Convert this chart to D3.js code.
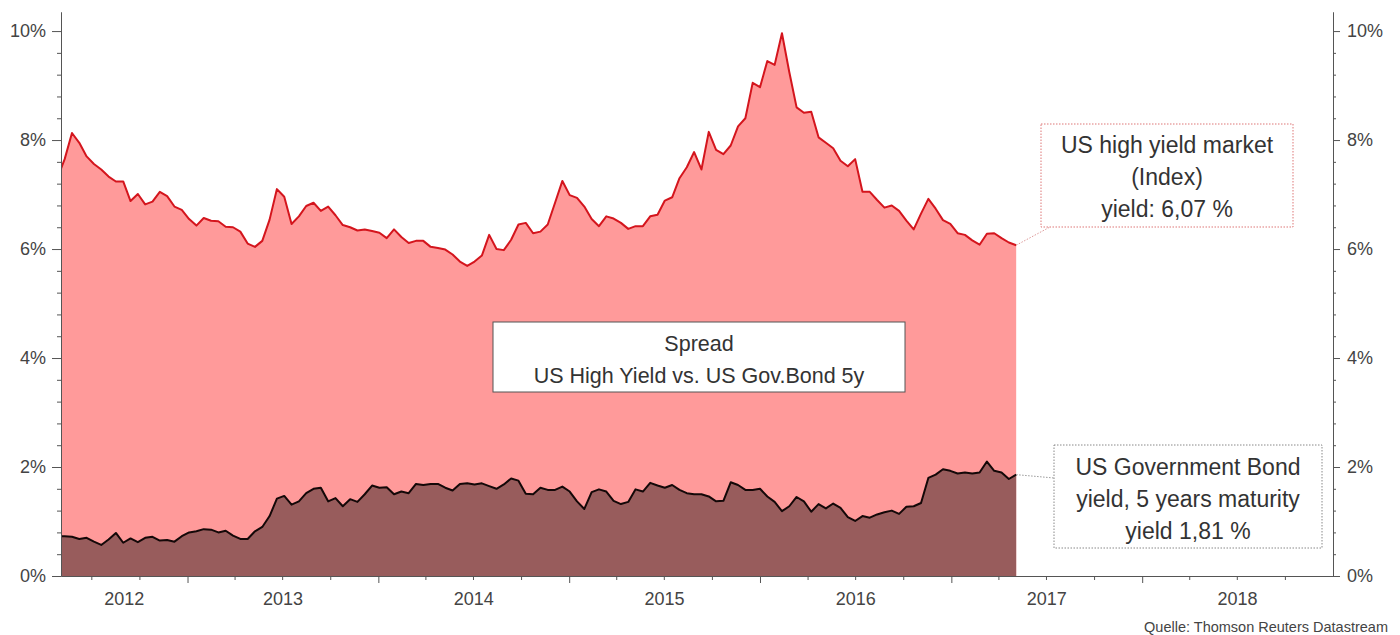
<!DOCTYPE html>
<html lang="en">
<head>
<meta charset="utf-8">
<title>US High Yield vs. US Gov.Bond 5y</title>
<style>
  body { margin: 0; background: #fff; font-family: "Liberation Sans", Arial, Helvetica, sans-serif; }
  .axis path, .axis line { stroke: #555; }
  .axis text { fill: #444; font-size: 18px; font-family: "Liberation Sans", Arial, sans-serif; }
  .note { fill: #333; font-family: "Liberation Sans", Arial, sans-serif; }
</style>
</head>
<body>
<div class="chart"></div>
<script src="https://d3js.org/d3.v7.min.js"></script>
<script>
// data, one point every two weeks starting 27 Apr 2012 (first point sits under the left axis)
var firstDate = new Date(2012, 3, 27);

// US high yield market index yield, %
var highYield = [
  7.30, 7.65, 8.13, 7.95, 7.70, 7.56, 7.46, 7.33, 7.24, 7.24,
  6.88, 7.01, 6.82, 6.87, 7.05, 6.97, 6.78, 6.72, 6.55, 6.43,
  6.57, 6.52, 6.51, 6.41, 6.40, 6.32, 6.10, 6.04, 6.15, 6.54,
  7.10, 6.96, 6.46, 6.60, 6.79, 6.85, 6.70, 6.78, 6.62, 6.44,
  6.40, 6.34, 6.36, 6.33, 6.30, 6.20, 6.36, 6.22, 6.11, 6.15,
  6.15, 6.04, 6.02, 5.99, 5.90, 5.77, 5.69, 5.77, 5.88, 6.26,
  6.00, 5.98, 6.17, 6.45, 6.48, 6.29, 6.32, 6.45, 6.85, 7.25,
  6.99, 6.94, 6.78, 6.55, 6.42, 6.60, 6.56, 6.48, 6.37, 6.42,
  6.42, 6.60, 6.63, 6.89, 6.95, 7.30, 7.50, 7.78, 7.46, 8.15,
  7.82, 7.74, 7.90, 8.25, 8.40, 9.05, 8.97, 9.45, 9.38, 9.96,
  9.25, 8.60, 8.50, 8.52, 8.05, 7.95, 7.85, 7.62, 7.52, 7.65,
  7.05, 7.05, 6.90, 6.76, 6.80, 6.70, 6.52, 6.36, 6.65, 6.92,
  6.74, 6.53, 6.46, 6.29, 6.26, 6.16, 6.08, 6.28, 6.29, 6.20,
  6.12, 6.07
];

// US government bond yield, 5 years maturity, %
var govBond5y = [
  0.73, 0.73, 0.72, 0.68, 0.70, 0.63, 0.57, 0.67, 0.79, 0.61,
  0.69, 0.62, 0.70, 0.72, 0.65, 0.66, 0.63, 0.73, 0.80, 0.82,
  0.86, 0.85, 0.80, 0.83, 0.74, 0.68, 0.68, 0.82, 0.90, 1.10,
  1.42, 1.47, 1.31, 1.37, 1.52, 1.60, 1.62, 1.37, 1.43, 1.28,
  1.41, 1.36, 1.50, 1.66, 1.62, 1.63, 1.50, 1.55, 1.52, 1.69,
  1.67, 1.69, 1.69, 1.62, 1.57, 1.69, 1.70, 1.68, 1.70, 1.65,
  1.60, 1.68, 1.79, 1.75, 1.51, 1.50, 1.62, 1.58, 1.58, 1.64,
  1.55, 1.37, 1.23, 1.54, 1.59, 1.55, 1.38, 1.32, 1.36, 1.59,
  1.55, 1.71, 1.66, 1.62, 1.67, 1.58, 1.52, 1.50, 1.50, 1.46,
  1.37, 1.38, 1.72, 1.67, 1.58, 1.58, 1.60, 1.46, 1.36, 1.19,
  1.28, 1.45, 1.37, 1.18, 1.32, 1.24, 1.33, 1.25, 1.08, 1.01,
  1.10, 1.07, 1.13, 1.17, 1.20, 1.14, 1.27, 1.28, 1.34, 1.80,
  1.86, 1.96, 1.93, 1.88, 1.90, 1.88, 1.90, 2.10, 1.93, 1.90,
  1.78, 1.86
];

var years = [2012, 2013, 2014, 2015, 2016, 2017, 2018];
var yMajor = [0, 2, 4, 6, 8, 10];

var hyLines = ["US high yield market", "(Index)", "yield: 6,07 %"];
var govLines = ["US Government Bond", "yield, 5 years maturity", "yield 1,81 %"];
var spreadLines = ["Spread", "US High Yield vs. US Gov.Bond 5y"];
var sourceText = "Quelle: Thomson Reuters Datastream";

var dates = highYield.map(function(d, i) { return d3.timeDay.offset(firstDate, i * 14); });

var width = 1400, height = 635;
var plotLeft = 61, plotRight = 1333, plotTop = 12, plotBottom = 576;

var x = d3.scaleTime()
  .domain([new Date(2012, 4, 4), new Date(2019, 0, 1)])
  .range([plotLeft, plotRight]);

var y = d3.scaleLinear()
  .domain([0, 10.35])
  .range([plotBottom, plotTop]);

var svg = d3.select(".chart").append("svg")
  .attr("width", width)
  .attr("height", height);

svg.append("defs").append("clipPath").attr("id", "plot")
  .append("rect")
  .attr("x", plotLeft).attr("y", 0)
  .attr("width", plotRight - plotLeft).attr("height", plotBottom);

var plot = svg.append("g").attr("clip-path", "url(#plot)");

var area = d3.area()
  .x(function(d, i) { return x(dates[i]); })
  .y0(y(0))
  .y1(function(d) { return y(d); });

var line = d3.line()
  .x(function(d, i) { return x(dates[i]); })
  .y(function(d) { return y(d); });

plot.append("path").datum(highYield)
  .attr("d", area)
  .attr("fill", "#ff9a9a");

plot.append("path").datum(highYield)
  .attr("d", line)
  .attr("fill", "none")
  .attr("stroke", "#d4151d")
  .attr("stroke-width", 2)
  .attr("stroke-linejoin", "round");

plot.append("path").datum(govBond5y)
  .attr("d", area)
  .attr("fill", "#985c5c");

plot.append("path").datum(govBond5y)
  .attr("d", line)
  .attr("fill", "none")
  .attr("stroke", "#140808")
  .attr("stroke-width", 2)
  .attr("stroke-linejoin", "round");

// y axes, major and minor ticks
var yMinor = d3.range(0, 10.01, 0.4).filter(function(v) {
  return yMajor.indexOf(Math.round(v * 10) / 10) < 0;
});

svg.append("g").attr("class", "axis")
  .attr("transform", "translate(" + plotLeft + ",0)")
  .call(d3.axisLeft(y).tickValues(yMajor).tickSize(9).tickSizeOuter(0).tickPadding(6)
    .tickFormat(function(d) { return d + "%"; }));
svg.append("g").attr("class", "axis")
  .attr("transform", "translate(" + plotLeft + ",0)")
  .call(d3.axisLeft(y).tickValues(yMinor).tickSize(4).tickSizeOuter(0).tickFormat(""));

svg.append("g").attr("class", "axis")
  .attr("transform", "translate(" + plotRight + ",0)")
  .call(d3.axisRight(y).tickValues(yMajor).tickSize(7).tickSizeOuter(0).tickPadding(7)
    .tickFormat(function(d) { return d + "%"; }));
svg.append("g").attr("class", "axis")
  .attr("transform", "translate(" + plotRight + ",0)")
  .call(d3.axisRight(y).tickValues(yMinor).tickSize(3).tickSizeOuter(0).tickFormat(""));

// x axis: quarter ticks, longer at the start of each year
var quarters = d3.timeMonth.every(3).range(x.domain()[0], x.domain()[1]);
var xAxis = svg.append("g").attr("class", "axis")
  .attr("transform", "translate(0," + plotBottom + ")")
  .call(d3.axisBottom(x).tickValues(quarters).tickSize(4).tickSizeOuter(0).tickFormat(""));
xAxis.selectAll(".tick line")
  .attr("y2", function(d) { return d.getMonth() === 0 ? 7 : 4; });

// year labels centred on the visible part of each year
svg.append("g").attr("class", "axis")
  .selectAll("text")
  .data(years)
  .join("text")
  .attr("x", function(yr) {
    var a = Math.max(x(new Date(yr, 0, 1)), plotLeft);
    var b = Math.min(x(new Date(yr + 1, 0, 1)), plotRight);
    return (a + b) / 2;
  })
  .attr("y", 605)
  .attr("text-anchor", "middle")
  .text(function(yr) { return yr; });

// annotation boxes
function noteBox(lines, cx, bx0, by0, bx1, by1, firstY, step, size, border, dash, fill) {
  var g = svg.append("g");
  g.append("rect")
    .attr("x", bx0).attr("y", by0)
    .attr("width", bx1 - bx0).attr("height", by1 - by0)
    .attr("fill", fill)
    .attr("stroke", border)
    .attr("stroke-width", 1)
    .attr("stroke-dasharray", dash);
  g.selectAll("text")
    .data(lines)
    .join("text")
    .attr("class", "note")
    .attr("x", cx)
    .attr("y", function(d, i) { return firstY + i * step; })
    .attr("text-anchor", "middle")
    .style("font-size", size + "px")
    .text(function(d) { return d; });
}

var lastDate = dates[dates.length - 1];

// leader lines
svg.append("line")
  .attr("x1", x(lastDate)).attr("y1", y(highYield[highYield.length - 1]))
  .attr("x2", 1050).attr("y2", 227)
  .attr("stroke", "#d99").attr("stroke-width", 1).attr("stroke-dasharray", "1.5,1.5");
svg.append("line")
  .attr("x1", x(lastDate)).attr("y1", y(govBond5y[govBond5y.length - 1]))
  .attr("x2", 1054).attr("y2", 478)
  .attr("stroke", "#999").attr("stroke-width", 1).attr("stroke-dasharray", "1.5,1.5");

noteBox(hyLines, 1167, 1041, 124, 1293, 227, 153, 32, 23, "#d77", "1.5,1.5", "#fff");
noteBox(govLines, 1188, 1054, 445, 1322, 548, 475, 32, 23, "#888", "1.5,1.5", "#fff");
noteBox(spreadLines, 699, 493, 322, 905, 392, 351, 32, 21.5, "#555", null, "#fff");

svg.append("text")
  .attr("class", "note")
  .attr("x", 1388)
  .attr("y", 632)
  .attr("text-anchor", "end")
  .style("font-size", "14.5px")
  .style("fill", "#444")
  .text(sourceText);
</script>
</body>
</html>
